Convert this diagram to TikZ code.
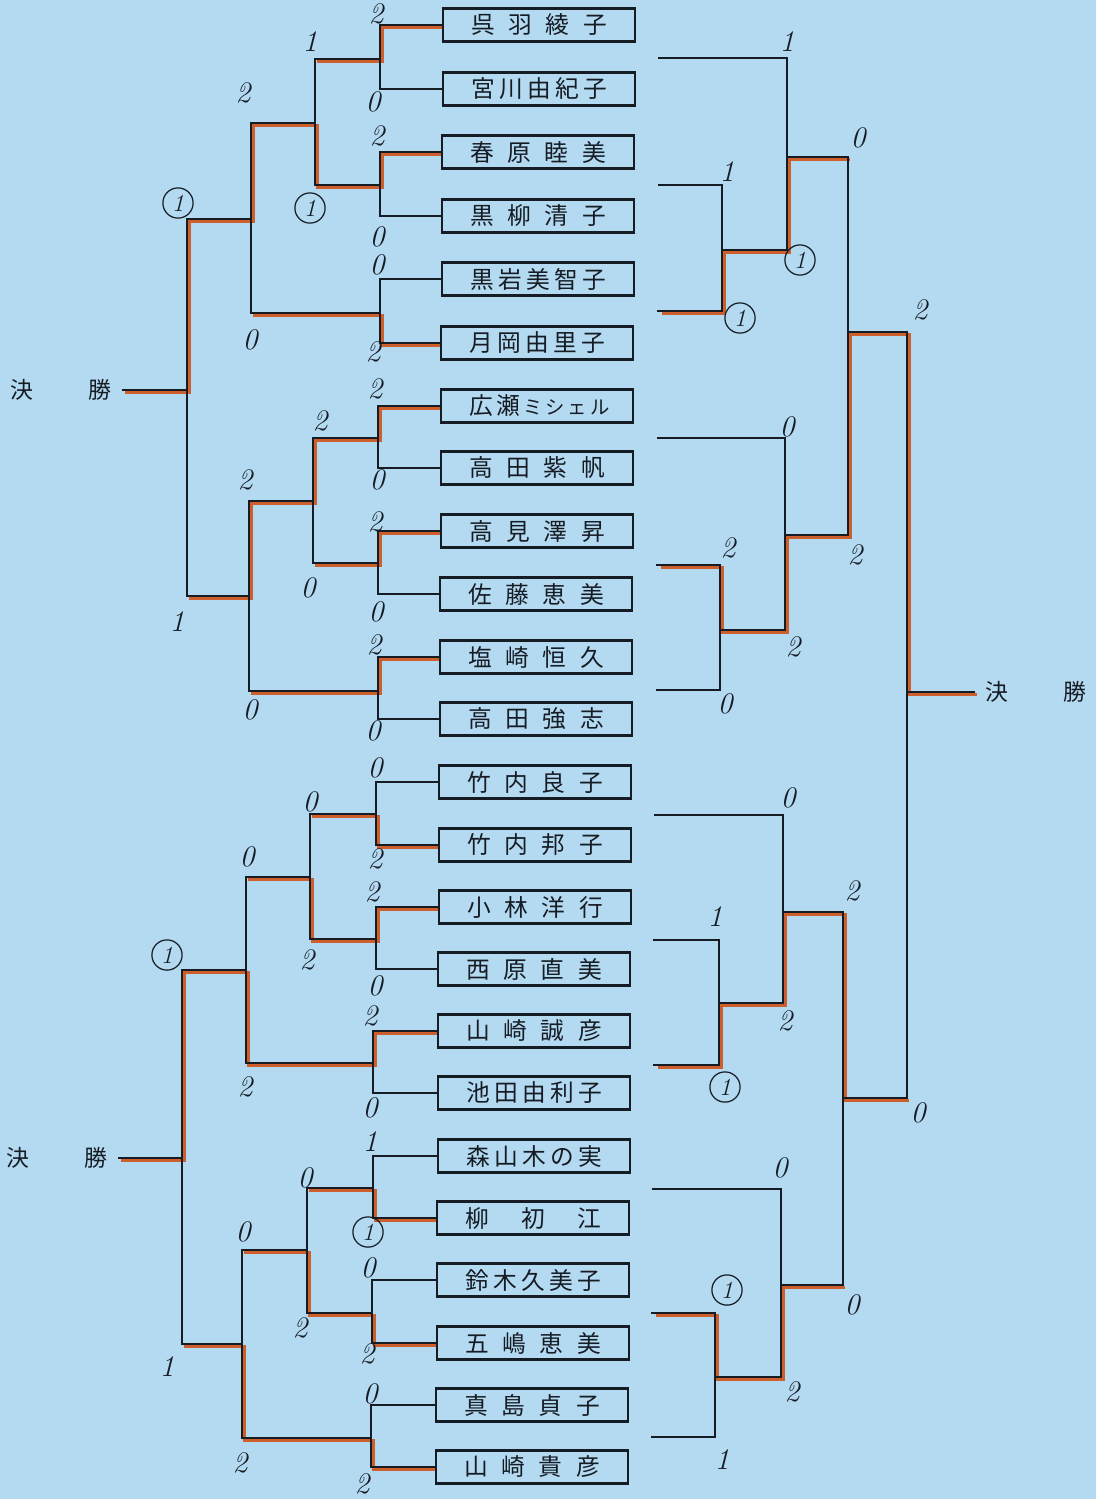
\documentclass[tikz,border=0pt]{standalone}
\usepackage{fontspec}
\usepackage{tikz}
\newfontfamily\jp{Noto Sans CJK JP}
\definecolor{paper}{RGB}{180,218,242}
\definecolor{winred}{RGB}{205,95,45}
\definecolor{ink}{RGB}{22,28,36}
\newcommand{\nm}[1]{\makebox[2.72cm][s]{#1}}

\begin{document}
\begin{tikzpicture}[x=0.02cm,y=-0.02cm,
	player/.style={draw=ink,line width=1.5pt,minimum width=3.84cm,minimum height=0.66cm,inner sep=0pt,font=\jp\fontsize{13.5}{13.5}\selectfont,text=ink},
	tie/.style={draw=ink,line width=1.4pt},
	won/.style={draw=winred,line width=1.9pt,shorten <=1.4pt,transform canvas={xshift=1.35pt,yshift=-1.35pt}},
	score/.style={font=\fontsize{17}{17}\selectfont\itshape,text=ink,inner sep=0pt},
	cscore/.style={draw=ink,circle,line width=0.7pt,inner sep=2pt,font=\fontsize{14}{14}\selectfont\itshape,text=ink},
	title/.style={font=\jp\fontsize{13}{13}\selectfont,text=ink,inner xsep=6pt}]
	\useasboundingbox (0,0) rectangle (1096,1499);
	\fill[paper] (0,0) rectangle (1096,1499);

	\node[player] (n1) at (539,25) {\nm{呉 羽 綾 子}};
	\node[player] (n2) at (539,89) {\nm{宮 川 由 紀 子}};
	\node[player] (n3) at (538,152) {\nm{春 原 睦 美}};
	\node[player] (n4) at (538,216) {\nm{黒 柳 清 子}};
	\node[player] (n5) at (538,279) {\nm{黒 岩 美 智 子}};
	\node[player] (n6) at (537,343) {\nm{月 岡 由 里 子}};
	\node[player] (n7) at (537,406) {\nm{広 瀬 {\fontsize{11}{11}\selectfont ミ シ ェ ル}}};
	\node[player] (n8) at (537,468) {\nm{高 田 紫 帆}};
	\node[player] (n9) at (537,531) {\nm{高 見 澤 昇}};
	\node[player] (n10) at (536,594) {\nm{佐 藤 恵 美}};
	\node[player] (n11) at (536,657) {\nm{塩 崎 恒 久}};
	\node[player] (n12) at (536,719) {\nm{高 田 強 志}};
	\node[player] (n13) at (535,782) {\nm{竹 内 良 子}};
	\node[player] (n14) at (535,845) {\nm{竹 内 邦 子}};
	\node[player] (n15) at (535,907) {\nm{小 林 洋 行}};
	\node[player] (n16) at (534,969) {\nm{西 原 直 美}};
	\node[player] (n17) at (534,1031) {\nm{山 崎 誠 彦}};
	\node[player] (n18) at (534,1093) {\nm{池 田 由 利 子}};
	\node[player] (n19) at (534,1156) {\nm{森 山 木 の 実}};
	\node[player] (n20) at (533,1218) {\nm{柳 初 江}};
	\node[player] (n21) at (533,1280) {\nm{鈴 木 久 美 子}};
	\node[player] (n22) at (533,1343) {\nm{五 嶋 恵 美}};
	\node[player] (n23) at (532,1405) {\nm{真 島 貞 子}};
	\node[player] (n24) at (532,1467) {\nm{山 崎 貴 彦}};

	\node[title] (t1) at (61,390) {\makebox[2.02cm][s]{決 勝}};
	\node[title] (t2) at (57,1158) {\makebox[2.02cm][s]{決 勝}};
	\node[title] (t3) at (1036,692) {\makebox[2.02cm][s]{決 勝}};

	\coordinate (a1) at (380,59);
	\coordinate (a2) at (380,185);
	\coordinate (a3) at (380,313);
	\coordinate (a4) at (378,438);
	\coordinate (a5) at (378,563);
	\coordinate (a6) at (378,691);
	\coordinate (a7) at (376,814);
	\coordinate (a8) at (376,939);
	\coordinate (a9) at (373,1063);
	\coordinate (a10) at (373,1188);
	\coordinate (a11) at (372,1313);
	\coordinate (a12) at (371,1438);
	\coordinate (b1) at (315,123);
	\coordinate (b2) at (313,501);
	\coordinate (b3) at (310,877);
	\coordinate (b4) at (307,1250);
	\coordinate (c1) at (251,219);
	\coordinate (c2) at (249,596);
	\coordinate (c3) at (246,970);
	\coordinate (c4) at (242,1344);
	\coordinate (d1) at (187,390);
	\coordinate (d2) at (182,1158);

	\coordinate (e1) at (658,58);
	\coordinate (e2) at (658,185);
	\coordinate (e3) at (657,311);
	\coordinate (e4) at (657,438);
	\coordinate (e5) at (656,565);
	\coordinate (e6) at (656,690);
	\coordinate (e7) at (654,815);
	\coordinate (e8) at (653,940);
	\coordinate (e9) at (653,1065);
	\coordinate (e10) at (652,1189);
	\coordinate (e11) at (651,1313);
	\coordinate (e12) at (651,1437);
	\coordinate (r1) at (722,250);
	\coordinate (r2) at (787,157);
	\coordinate (r3) at (720,630);
	\coordinate (r4) at (785,535);
	\coordinate (r5) at (848,332);
	\coordinate (r6) at (719,1003);
	\coordinate (r7) at (783,912);
	\coordinate (r8) at (715,1377);
	\coordinate (r9) at (781,1285);
	\coordinate (r10) at (843,1098);
	\coordinate (rf) at (907,692);

	\draw[won] (n1.west) -| (a1) -- (a1 -| b1);
	\draw[won] (n3.west) -| (a2) -| (b1) -| (c1) -| (d1) -- (t1.east);
	\draw[won] (n6.west) -| (a3) -- (a3 -| c1);
	\draw[won] (n7.west) -| (a4) -| (b2) -| (c2) -- (c2 -| d1);
	\draw[won] (n9.west) -| (a5) -- (a5 -| b2);
	\draw[won] (n11.west) -| (a6) -- (a6 -| c2);
	\draw[won] (n14.west) -| (a7) -- (a7 -| b3);
	\draw[won] (n15.west) -| (a8) -| (b3) -- (b3 -| c3);
	\draw[won] (n17.west) -| (a9) -| (c3) -| (d2) -- (t2.east);
	\draw[won] (n20.west) -| (a10) -- (a10 -| b4);
	\draw[won] (n22.west) -| (a11) -| (b4) -- (b4 -| c4);
	\draw[won] (n24.west) -| (a12) -| (c4) -- (c4 -| d2);
	\draw[won] (e3) -| (r1) -| (r2) -- (r2 -| r5);
	\draw[won] (e5) -| (r3) -| (r4) -| (r5) -| (rf) -- (t3.west);
	\draw[won] (e9) -| (r6) -| (r7) -| (r10) -- (r10 -| rf);
	\draw[won] (e11) -| (r8) -| (r9) -- (r9 -| r10);

	\draw[tie] (n1.west) -| (a1) (n2.west) -| (a1) (n3.west) -| (a2) (n4.west) -| (a2) (n5.west) -| (a3) (n6.west) -| (a3);
	\draw[tie] (n7.west) -| (a4) (n8.west) -| (a4) (n9.west) -| (a5) (n10.west) -| (a5) (n11.west) -| (a6) (n12.west) -| (a6);
	\draw[tie] (n13.west) -| (a7) (n14.west) -| (a7) (n15.west) -| (a8) (n16.west) -| (a8) (n17.west) -| (a9) (n18.west) -| (a9);
	\draw[tie] (n19.west) -| (a10) (n20.west) -| (a10) (n21.west) -| (a11) (n22.west) -| (a11) (n23.west) -| (a12) (n24.west) -| (a12);
	\draw[tie] (a1) -| (b1) (a2) -| (b1) (b1) -| (c1) (a3) -| (c1) (c1) -| (d1);
	\draw[tie] (a4) -| (b2) (a5) -| (b2) (b2) -| (c2) (a6) -| (c2) (c2) -| (d1);
	\draw[tie] (a7) -| (b3) (a8) -| (b3) (b3) -| (c3) (a9) -| (c3) (c3) -| (d2);
	\draw[tie] (a10) -| (b4) (a11) -| (b4) (b4) -| (c4) (a12) -| (c4) (c4) -| (d2);
	\draw[tie] (d1) -- (t1.east) (d2) -- (t2.east);
	\draw[tie] (e2) -| (r1) (e3) -| (r1) (e1) -| (r2) (r1) -| (r2) (r2) -| (r5);
	\draw[tie] (e5) -| (r3) (e6) -| (r3) (e4) -| (r4) (r3) -| (r4) (r4) -| (r5);
	\draw[tie] (e8) -| (r6) (e9) -| (r6) (e7) -| (r7) (r6) -| (r7) (r7) -| (r10);
	\draw[tie] (e11) -| (r8) (e12) -| (r8) (e10) -| (r9) (r8) -| (r9) (r9) -| (r10);
	\draw[tie] (r5) -| (rf) (r10) -| (rf) (rf) -- (t3.west);

	\node[score] (s1) at (376,14) {2};
	\node[score] (s2) at (373,102) {0};
	\node[score] (s3) at (310,42) {1};
	\node[score] (s4) at (377,136) {2};
	\node[score] (s5) at (377,237) {0};
	\node[cscore] (s6) at (310,208) {1};
	\node[score] (s7) at (243,93) {2};
	\node[score] (s8) at (377,265) {0};
	\node[score] (s9) at (373,352) {2};
	\node[score] (s10) at (250,340) {0};
	\node[cscore] (s11) at (178,203) {1};
	\node[score] (s12) at (375,389) {2};
	\node[score] (s13) at (377,480) {0};
	\node[score] (s14) at (320,421) {2};
	\node[score] (s15) at (375,522) {2};
	\node[score] (s16) at (376,612) {0};
	\node[score] (s17) at (308,588) {0};
	\node[score] (s18) at (245,480) {2};
	\node[score] (s19) at (374,645) {2};
	\node[score] (s20) at (373,731) {0};
	\node[score] (s21) at (250,710) {0};
	\node[score] (s22) at (177,622) {1};
	\node[score] (s23) at (375,768) {0};
	\node[score] (s24) at (310,802) {0};
	\node[score] (s25) at (375,859) {2};
	\node[score] (s26) at (247,857) {0};
	\node[score] (s27) at (372,892) {2};
	\node[score] (s28) at (307,960) {2};
	\node[score] (s29) at (375,986) {0};
	\node[cscore] (s30) at (167,955) {1};
	\node[score] (s31) at (370,1016) {2};
	\node[score] (s32) at (245,1087) {2};
	\node[score] (s33) at (370,1108) {0};
	\node[score] (s34) at (370,1142) {1};
	\node[score] (s35) at (305,1178) {0};
	\node[cscore] (s36) at (368,1232) {1};
	\node[score] (s37) at (243,1232) {0};
	\node[score] (s38) at (368,1268) {0};
	\node[score] (s39) at (300,1328) {2};
	\node[score] (s40) at (367,1354) {2};
	\node[score] (s41) at (167,1367) {1};
	\node[score] (s42) at (370,1394) {0};
	\node[score] (s43) at (240,1463) {2};
	\node[score] (s44) at (362,1484) {2};
	\node[score] (s45) at (787,42) {1};
	\node[score] (s46) at (727,172) {1};
	\node[cscore] (s47) at (740,318) {1};
	\node[cscore] (s48) at (800,260) {1};
	\node[score] (s49) at (858,138) {0};
	\node[score] (s50) at (920,310) {2};
	\node[score] (s51) at (787,427) {0};
	\node[score] (s52) at (728,548) {2};
	\node[score] (s53) at (855,555) {2};
	\node[score] (s54) at (793,647) {2};
	\node[score] (s55) at (725,704) {0};
	\node[score] (s56) at (788,798) {0};
	\node[score] (s57) at (852,891) {2};
	\node[score] (s58) at (715,917) {1};
	\node[score] (s59) at (785,1021) {2};
	\node[cscore] (s60) at (725,1087) {1};
	\node[score] (s61) at (918,1113) {0};
	\node[score] (s62) at (780,1168) {0};
	\node[cscore] (s63) at (727,1290) {1};
	\node[score] (s64) at (852,1305) {0};
	\node[score] (s65) at (792,1392) {2};
	\node[score] (s66) at (722,1460) {1};
\end{tikzpicture}
\end{document}
